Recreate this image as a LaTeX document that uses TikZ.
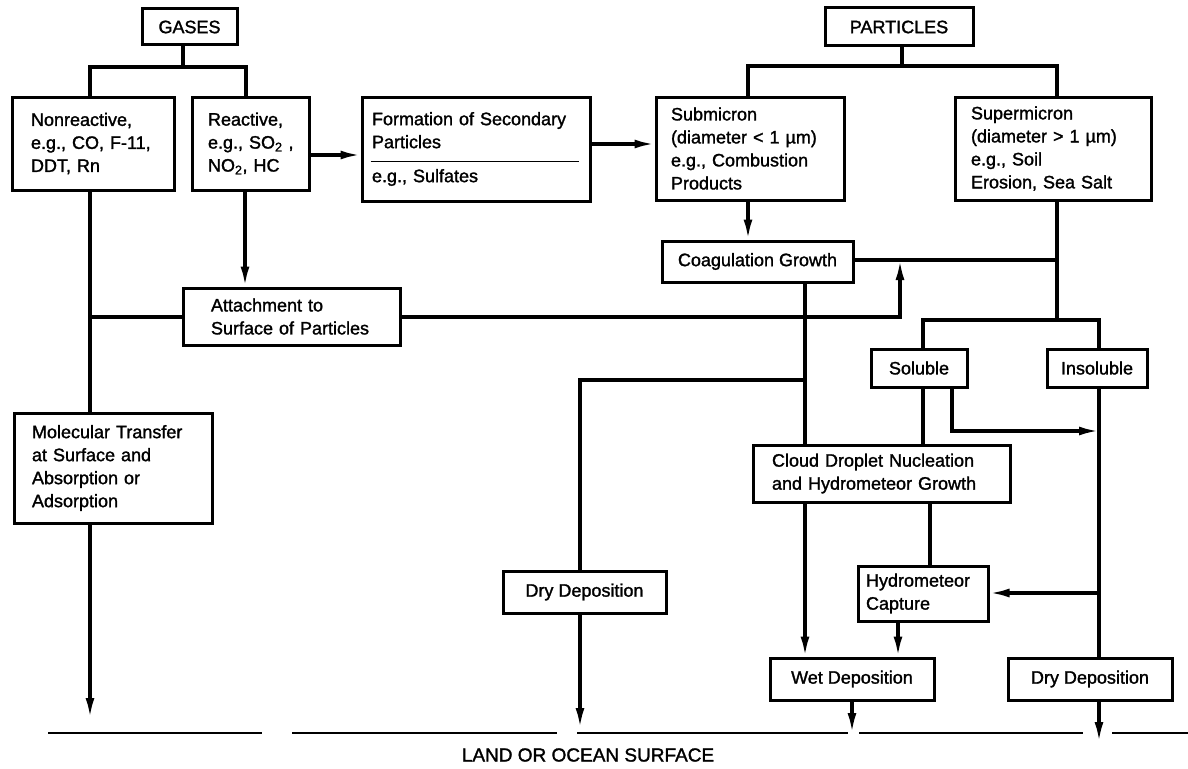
\documentclass[tikz,border=0pt]{standalone}
\usepackage{fontspec}
\setmainfont{Liberation Sans}[FakeBold=1.5]
\usetikzlibrary{arrows.meta,calc}
\begin{document}
\begin{tikzpicture}[x=1pt,y=-1pt,
  conn/.style={line width=3.2pt},
  arr/.style={line width=3.2pt,-{Latex[length=20pt,width=9pt]}},
  bx/.style={draw,line width=3pt,align=left,inner ysep=0pt,font=\fontsize{18}{23}\selectfont},
  cbx/.style={draw,line width=3pt,align=center,inner sep=0pt,font=\fontsize{18}{23}\selectfont},
  ground/.style={line width=2.4pt},
  sep/.style={line width=1.8pt}]
\useasboundingbox (0,0) rectangle (1188,768);

% boxes
\node[cbx,minimum width=95pt,minimum height=36pt] (gases) at (189.5,27) {GASES};
\node[cbx,minimum width=148pt,minimum height=38pt] (particles) at (899,27) {PARTICLES};
\node[bx,text width=124pt,inner xsep=19pt,minimum height=93pt] (nonreact) at (93,143.5) {Nonreactive,\\e.g., CO, F-11,\\DDT, Rn};
\node[bx,text width=85pt,inner xsep=16pt,minimum height=93pt] (react) at (250.5,143.5) {Reactive,\\e.g.,~SO\textsubscript{2}~,\\NO\textsubscript{2}, HC};
\node[bx,text width=208pt,inner xsep=10pt,minimum height=104pt] (form) at (476,149) {Formation of Secondary\\Particles\\[11pt]e.g., Sulfates};
\node[bx,text width=158pt,inner xsep=15pt,minimum height=103pt] (submicron) at (750,148.5) {Submicron\\(diameter < 1 µm)\\e.g., Combustion\\Products};
\node[bx,text width=164pt,inner xsep=16pt,minimum height=103pt] (supermicron) at (1053,148.5) {Supermicron\\(diameter >\ 1 µm)\\e.g., Soil\\Erosion, Sea Salt};
\node[cbx,minimum width=191pt,minimum height=41pt] (coag) at (757.5,261.5) {Coagulation Growth};
\node[bx,text width=161pt,inner xsep=28pt,minimum height=57pt] (attach) at (291.5,316.5) {Attachment to\\Surface of Particles};
\node[cbx,minimum width=96pt,minimum height=38pt] (soluble) at (919,368) {Soluble};
\node[cbx,minimum width=100pt,minimum height=38pt] (insoluble) at (1097,368) {Insoluble};
\node[bx,text width=162pt,inner xsep=18pt,minimum height=110pt] (mol) at (113,468) {Molecular Transfer\\at Surface and\\Absorption or\\Adsorption};
\node[bx,text width=219pt,inner xsep=19pt,minimum height=57pt] (cloud) at (881.5,473.5) {Cloud Droplet Nucleation\\and Hydrometeor Growth};
\node[bx,text width=114pt,inner xsep=8pt,minimum height=55pt] (hydro) at (923,593.5) {Hydrometeor\\Capture};
\node[cbx,minimum width=163pt,minimum height=42pt] (dryL) at (584.5,592) {Dry Deposition};
\node[cbx,minimum width=164pt,minimum height=42pt] (wet) at (852,679) {Wet Deposition};
\node[cbx,minimum width=164pt,minimum height=42pt] (dryR) at (1090,679) {Dry Deposition};
\node[font=\fontsize{19}{23}\selectfont] (surface) at (588,755) {LAND OR OCEAN SURFACE};

% separator inside the formation box
\draw[sep] ($(form.north west)+(10,66)$) -- ($(form.north east)+(-13,66)$);

% junction coordinates
\coordinate (g1) at (183,67);
\coordinate (gL) at (90,67);
\coordinate (gR) at (246,67);
\coordinate (p1) at (902,66);
\coordinate (pL) at (748,66);
\coordinate (pR) at (1057,66);
\coordinate (rf) at (330,155);
\coordinate (fs) at (620,144);
\coordinate (jC) at (1057,260);
\coordinate (jM) at (1057,320);
\coordinate (jS) at (923,320);
\coordinate (jI) at (1099,320);
\coordinate (a1) at (900,317);
\coordinate (a2) at (900,260);
\coordinate (n1) at (90,317);
\coordinate (r1) at (245,240);
\coordinate (molEnd) at (90,718);
\coordinate (c1) at (805,380);
\coordinate (c2) at (580,380);
\coordinate (dLend) at (580,728);
\coordinate (s1) at (952,431);
\coordinate (s2) at (1099,431);
\coordinate (h1) at (1099,593);
\coordinate (cl2) at (930,540);
\coordinate (hw) at (898,640);
\coordinate (wEnd) at (852,733);
\coordinate (dREnd) at (1099,742);

% connectors
\draw[conn] (gases.south -| g1) -- (g1);
\draw[conn] (nonreact.north -| gL) -- (gL) -- (gR) -- (react.north -| gR);
\draw[conn] (particles.south -| p1) -- (p1);
\draw[conn] (submicron.north -| pL) -- (pL) -- (pR) -- (supermicron.north -| pR);
\draw[arr] (react.east |- rf) -- (form.west |- rf);
\draw[arr] (form.east |- fs) -- (submicron.west |- fs);
\draw[arr] (submicron.south -| pL) -- (coag.north -| pL);
\draw[conn] (coag.east |- jC) -- (jC);
\draw[conn] (supermicron.south -| jM) -- (jM);
\draw[conn] (soluble.north -| jS) -- (jS) -- (jI) -- (insoluble.north -| jI);
\draw[arr] (attach.east |- a1) -- (a1) -- (a2);
\draw[conn] (nonreact.south -| n1) -- (mol.north -| n1);
\draw[conn] (n1) -- (attach.west |- n1);
\draw[arr] (mol.south -| n1) -- (molEnd);
\draw[arr] (react.south -| r1) -- (attach.north -| r1);
\draw[conn] (coag.south -| c1) -- (cloud.north -| c1);
\draw[conn] (c1) -- (c2) -- (dryL.north -| c2);
\draw[arr] (dryL.south -| c2) -- (dLend);
\draw[arr] (cloud.south -| c1) -- (wet.north -| c1);
\draw[conn] (soluble.south -| jS) -- (cloud.north -| jS);
\draw[arr] (soluble.south -| s1) -- (s1) -- (s2);
\draw[conn] (insoluble.south -| jI) -- (dryR.north -| jI);
\draw[arr] (h1) -- (hydro.east |- h1);
\draw[conn] (cloud.south -| cl2) -- (hydro.north -| cl2);
\draw[arr] (hydro.south -| hw) -- (wet.north -| hw);
\draw[arr] (wet.south -| wEnd) -- (wEnd);
\draw[arr] (dryR.south -| dREnd) -- (dREnd);

% ground line
\draw[ground] (48,733) -- (262,733);
\draw[ground] (292,733) -- (557,733);
\draw[ground] (577,733) -- (848,733);
\draw[ground] (859,733) -- (1083,733);
\draw[ground] (1112,733) -- (1188,733);
\end{tikzpicture}
\end{document}
